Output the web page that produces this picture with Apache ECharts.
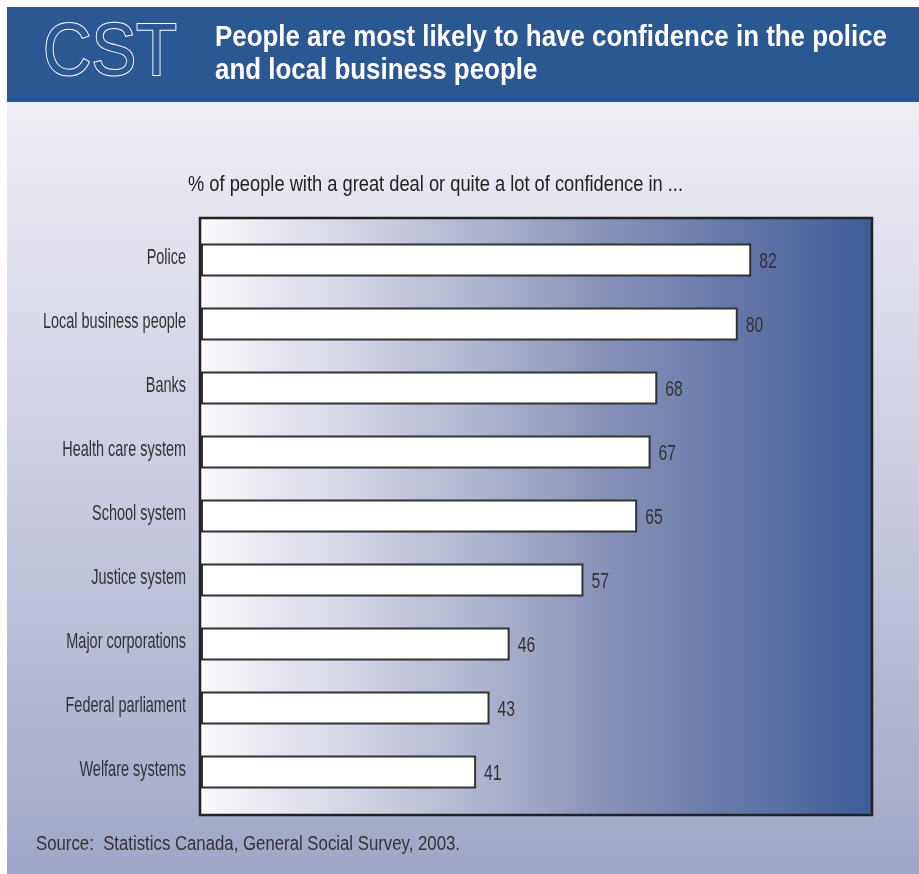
<!DOCTYPE html>
<html>
<head>
<meta charset="utf-8">
<script src="https://cdn.jsdelivr.net/npm/echarts@6/dist/echarts.min.js"></script>
<style>
html,body{margin:0;padding:0;background:#fff;}
#chart{width:919px;height:874px;}
</style>
</head>
<body>
<div id="chart"></div>
<script>
const categories = ['Police','Local business people','Banks','Health care system','School system','Justice system','Major corporations','Federal parliament','Welfare systems'];
const values = [82, 80, 68, 67, 65, 57, 46, 43, 41];
const titleLines = ['People are most likely to have confidence in the police', 'and local business people'];
const badge = 'CST';
const subtitle = '% of people with a great deal or quite a lot of confidence in ...';
const source = 'Source:  Statistics Canada, General Social Survey, 2003.';

const FAM = '"Liberation Sans", Arial, sans-serif';
const LABEL_FONT = '22px ' + FAM;
const VALUE_FONT = '22px ' + FAM;
const TITLE_FONT = 'bold 29px ' + FAM;
const SUB_FONT = '22px ' + FAM;
const SRC_FONT = '20px ' + FAM;
const BADGE_FONT = '75px ' + FAM;

// horizontal condensing factors so the text widths match the reference's condensed face
const mctx = document.createElement('canvas').getContext('2d');
function w(text, font) { mctx.font = font; return mctx.measureText(text).width; }
const labelScale = 143 / w('Local business people', LABEL_FONT);
const valueScale = 17.5 / w('82', VALUE_FONT);
const titleScale = 672 / w(titleLines[0], TITLE_FONT);
const subScale = 495 / w(subtitle, SUB_FONT);
const srcScale = 424 / w(source, SRC_FONT);
const badgeScale = 134 / w(badge, BADGE_FONT);

const chart = echarts.init(document.getElementById('chart'));
const option = {
  backgroundColor: '#ffffff',
  animation: false,
  graphic: [
    { type: 'rect', z: -10, shape: { x: 7, y: 102, width: 912, height: 772 },
      style: { fill: { type: 'linear', x: 0, y: 0, x2: 0, y2: 1,
        colorStops: [{ offset: 0, color: '#eeeef4' }, { offset: 0.5, color: '#c9cce0' }, { offset: 1, color: '#a0a6c7' }] } } },
    { type: 'rect', z: -10, shape: { x: 7, y: 7, width: 912, height: 95 }, style: { fill: '#2b5892' } },
    { type: 'text', z: 5, x: 43, y: 54, scaleX: badgeScale,
      style: { text: badge, font: BADGE_FONT, fill: '#2b5892', stroke: '#ffffff', lineWidth: 2, verticalAlign: 'middle', align: 'left' } },
    { type: 'text', z: 5, x: 215, y: 38, scaleX: titleScale,
      style: { text: titleLines[0], font: TITLE_FONT, fill: '#ffffff', verticalAlign: 'middle', align: 'left' } },
    { type: 'text', z: 5, x: 215, y: 71, scaleX: titleScale,
      style: { text: titleLines[1], font: TITLE_FONT, fill: '#ffffff', verticalAlign: 'middle', align: 'left' } },
    { type: 'rect', z: -5, shape: { x: 200, y: 218, width: 672, height: 597 },
      style: { stroke: '#222222', lineWidth: 2.5, fill: { type: 'linear', x: 0, y: 0, x2: 1, y2: 0,
        colorStops: [{ offset: 0, color: '#fafafc' }, { offset: 0.3, color: '#c6c9dc' }, { offset: 0.6, color: '#8a92b9' }, { offset: 1, color: '#3d5d97' }] } } },
    { type: 'text', z: 5, x: 188, y: 185, scaleX: subScale,
      style: { text: subtitle, font: SUB_FONT, fill: '#222', verticalAlign: 'middle', align: 'left' } },
    { type: 'text', z: 5, x: 36, y: 844, scaleX: srcScale,
      style: { text: source, font: SRC_FONT, fill: '#333', verticalAlign: 'middle', align: 'left' } }
  ],
  grid: { left: 201, top: 228, width: 671, height: 576, containLabel: false, outerBoundsMode: 'none' },
  xAxis: { type: 'value', min: 0, max: 100, show: false },
  yAxis: {
    type: 'category', data: categories, inverse: true,
    axisLine: { show: false }, axisTick: { show: false }, axisLabel: { show: false }
  },
  series: [{
    type: 'bar', data: values, barWidth: 33,
    itemStyle: { color: '#ffffff', borderColor: '#333', borderWidth: 2 }
  }, {
    type: 'custom', clip: false, z: 5,
    data: values.map((v, i) => [v, i]),
    renderItem: function (params, api) {
      const v = api.value(0), idx = api.value(1);
      const zero = api.coord([0, idx]);
      const end = api.coord([v, idx]);
      return { type: 'group', children: [
        { type: 'text', x: zero[0] - 15, y: zero[1] - 2, scaleX: labelScale,
          style: { text: categories[idx], font: LABEL_FONT, fill: '#333', align: 'right', verticalAlign: 'middle' } },
        { type: 'text', x: end[0] + 8, y: end[1] + 2, scaleX: valueScale,
          style: { text: String(v), font: VALUE_FONT, fill: '#333', align: 'left', verticalAlign: 'middle' } }
      ] };
    }
  }]
};
chart.setOption(option);
</script>
</body>
</html>
